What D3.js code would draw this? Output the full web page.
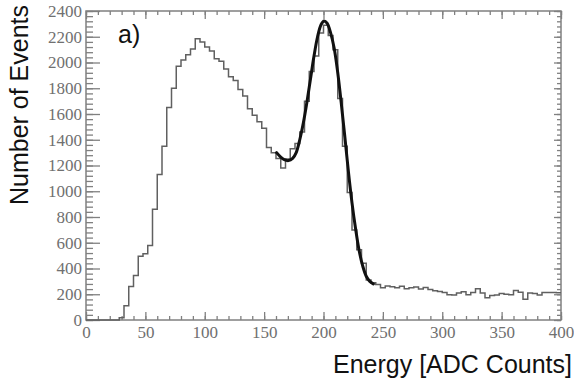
<!DOCTYPE html>
<html>
<head>
<meta charset="utf-8">
<script src="https://cdn.jsdelivr.net/npm/d3@7"></script>
<style>
  html, body { margin: 0; padding: 0; background: white; }
  svg { display: block; }
</style>
</head>
<body>
<div id="chart"></div>
<script>
// histogram: 100 bins of 4 ADC counts from 0 to 400
const binWidth = 4;
const counts = [
  0, 0, 0, 0, 0, 0, 0, 18, 110, 260,
  345, 495, 515, 578, 860, 1130, 1350, 1650, 1800, 1970,
  2020, 2060, 2105, 2185, 2160, 2120, 2090, 2030, 2010, 1950,
  1890, 1860, 1790, 1740, 1640, 1590, 1540, 1490, 1340, 1300,
  1255, 1180, 1250, 1330, 1370, 1460, 1700, 1930, 2050, 2230,
  2290, 2210, 2100, 1720, 1350, 990, 700, 545, 440, 310,
  290, 275, 250, 265, 258, 250, 262, 243, 250, 256,
  240, 252, 236, 228, 222, 214, 196, 194, 210, 220,
  196, 214, 242, 210, 172, 190, 194, 205, 200, 196,
  230, 215, 162, 210, 205, 195, 214, 214, 213, 212
];

// fitted peak curve
const fitEnergy = [160.5, 164, 167, 170.5, 174, 177, 180, 183, 186, 189, 192, 195, 198, 200.5,
                   203, 206, 209, 212, 215, 218, 221, 224, 227, 230, 233, 236, 239, 242];
const fitCounts = [1300, 1265, 1245, 1238, 1255, 1300, 1400, 1530, 1690, 1870, 2050, 2200, 2295, 2323,
                   2305, 2230, 2110, 1920, 1680, 1420, 1150, 910, 710, 540, 420, 340, 300, 280];

const xMajor = [0, 50, 100, 150, 200, 250, 300, 350, 400];
const yMajor = [0, 200, 400, 600, 800, 1000, 1200, 1400, 1600, 1800, 2000, 2200, 2400];

const W = 574, H = 381;
const frame = { left: 86, right: 561, top: 11, bottom: 320 };

const svg = d3.select('#chart').append('svg')
    .attr('width', W)
    .attr('height', H);

const x = d3.scaleLinear().domain([0, 400]).range([frame.left, frame.right]);
const y = d3.scaleLinear().domain([0, 2400]).range([frame.bottom, frame.top]);

const axisColor = '#808080';
const labelFont = '"Liberation Serif", "DejaVu Serif", serif';

function styleAxis(g, withLabels){
    g.select('.domain').remove();
    g.selectAll('line').attr('stroke', axisColor).attr('stroke-width', 1.3);
    if(withLabels){
        g.selectAll('text')
            .attr('fill', '#707070')
            .style('font-family', labelFont)
            .style('font-size', '17px');
    }
}

// frame
svg.append('rect')
    .attr('x', frame.left)
    .attr('y', frame.top)
    .attr('width', frame.right - frame.left)
    .attr('height', frame.bottom - frame.top)
    .attr('fill', 'none')
    .attr('stroke', axisColor)
    .attr('stroke-width', 1.5);

// bottom axis
svg.append('g')
    .attr('transform', `translate(0,${frame.bottom})`)
    .call(d3.axisBottom(x).tickValues(d3.range(0, 401, 10)).tickSize(-4).tickFormat(''))
    .call(g => styleAxis(g, false));
svg.append('g')
    .attr('transform', `translate(0,${frame.bottom})`)
    .call(d3.axisBottom(x).tickValues(xMajor).tickSize(-8).tickPadding(6).tickFormat(d3.format('d')))
    .call(g => styleAxis(g, true));

// top axis
svg.append('g')
    .attr('transform', `translate(0,${frame.top})`)
    .call(d3.axisTop(x).tickValues(d3.range(0, 401, 10)).tickSize(-4).tickFormat(''))
    .call(g => styleAxis(g, false));
svg.append('g')
    .attr('transform', `translate(0,${frame.top})`)
    .call(d3.axisTop(x).tickValues(xMajor).tickSize(-8).tickFormat(''))
    .call(g => styleAxis(g, false));

// left axis
svg.append('g')
    .attr('transform', `translate(${frame.left},0)`)
    .call(d3.axisLeft(y).tickValues(d3.range(0, 2401, 40)).tickSize(-7).tickFormat(''))
    .call(g => styleAxis(g, false));
svg.append('g')
    .attr('transform', `translate(${frame.left},0)`)
    .call(d3.axisLeft(y).tickValues(yMajor).tickSize(-14).tickPadding(4).tickFormat(d3.format('d')))
    .call(g => styleAxis(g, true));

// right axis
svg.append('g')
    .attr('transform', `translate(${frame.right},0)`)
    .call(d3.axisRight(y).tickValues(d3.range(0, 2401, 40)).tickSize(-4).tickFormat(''))
    .call(g => styleAxis(g, false));
svg.append('g')
    .attr('transform', `translate(${frame.right},0)`)
    .call(d3.axisRight(y).tickValues(yMajor).tickSize(-7).tickFormat(''))
    .call(g => styleAxis(g, false));

// histogram as a step line
const histPoints = counts.map((c, i) => [i * binWidth, c]);
histPoints.push([counts.length * binWidth, counts[counts.length - 1]]);

svg.append('path')
    .datum(histPoints)
    .attr('fill', 'none')
    .attr('stroke', '#606060')
    .attr('stroke-width', 1.5)
    .attr('d', d3.line()
        .x(d => x(d[0]))
        .y(d => y(d[1]))
        .curve(d3.curveStepAfter));

// fit curve
svg.append('path')
    .datum(fitEnergy.map((e, i) => [e, fitCounts[i]]))
    .attr('fill', 'none')
    .attr('stroke', '#111')
    .attr('stroke-width', 3)
    .attr('stroke-linecap', 'round')
    .attr('d', d3.line()
        .x(d => x(d[0]))
        .y(d => y(d[1]))
        .curve(d3.curveCatmullRom));

// titles
const titleFont = '"Liberation Sans", Arial, sans-serif';

svg.append('text')
    .attr('x', 572)
    .attr('y', 373)
    .attr('text-anchor', 'end')
    .style('font-family', titleFont)
    .style('font-size', '25px')
    .attr('fill', '#111')
    .text('Energy [ADC Counts]');

svg.append('text')
    .attr('transform', 'rotate(-90)')
    .attr('x', -105)
    .attr('y', 28)
    .attr('text-anchor', 'middle')
    .style('font-family', titleFont)
    .style('font-size', '25px')
    .attr('fill', '#111')
    .text('Number of Events');

svg.append('text')
    .attr('x', 118)
    .attr('y', 43)
    .style('font-family', titleFont)
    .style('font-size', '25px')
    .attr('fill', '#111')
    .text('a)');
</script>
</body>
</html>
